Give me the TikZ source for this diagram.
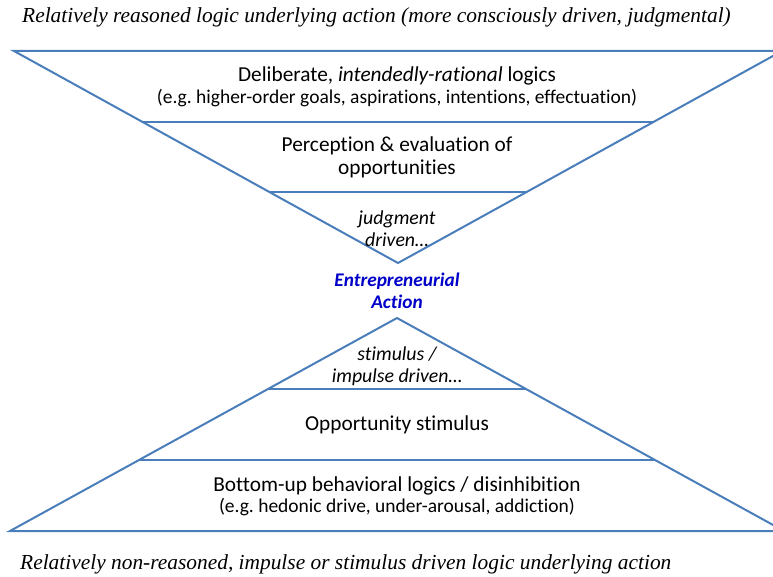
\documentclass[tikz,border=0pt]{standalone}
\usepackage{fontspec}
\setmainfont{Carlito}[Ligatures=NoCommon]
\newfontfamily\capfont{Liberation Serif}
\usetikzlibrary{calc}

\definecolor{edgeblue}{RGB}{74,126,187}
\definecolor{actblue}{RGB}{0,0,200}

\tikzset{
  edge/.style={draw=edgeblue,line width=2pt,line join=miter},
  big/.style={align=center,inner sep=0pt,font=\fontsize{21.3}{23}\selectfont},
  small/.style={align=center,inner sep=0pt,font=\fontsize{19.5}{22}\selectfont},
  slant/.style={align=center,inner sep=0pt,font=\fontsize{19.8}{22}\selectfont\itshape},
  captext/.style={anchor=west,inner sep=0pt,font=\capfont\itshape\fontsize{21.4}{24}\selectfont}
}

\begin{document}
\frenchspacing
\begin{tikzpicture}[x=1pt,y=-1pt]
\useasboundingbox (0,0) rectangle (773,577);

% upper triangle
\coordinate (tl) at (14,51);
\coordinate (tr) at (782,51);
\coordinate (ta) at (398,263);
\draw[edge] (tl) -- (tr) -- (ta) -- cycle;
\draw[edge] ($(tl)!1/3!(ta)$) -- ($(tr)!1/3!(ta)$);
\draw[edge] ($(tl)!2/3!(ta)$) -- ($(tr)!2/3!(ta)$);

% lower triangle
\coordinate (bl) at (10,531);
\coordinate (br) at (784,531);
\coordinate (ba) at (397,318);
\draw[edge] (bl) -- (br) -- (ba) -- cycle;
\draw[edge] ($(ba)!1/3!(bl)$) -- ($(ba)!1/3!(br)$);
\draw[edge] ($(ba)!2/3!(bl)$) -- ($(ba)!2/3!(br)$);

\node[captext] (captop) at (22,17) {Relatively reasoned logic underlying action (more consciously driven, judgmental)};
\node[captext] (capbot) at (20,564) {Relatively non-reasoned, impulse or stimulus driven logic underlying action};

\node[big] (delib) at (397,76) {Deliberate, \textit{intendedly-rational} logics};
\node[small] (delibeg) at (397,98) {(e.g. higher-order goals, aspirations, intentions, effectuation)};
\node[big] (perc) at (397,157) {Perception \& evaluation of\\opportunities};
\node[slant] (judg) at (397,229) {judgment\\driven\ldots};
\node[small,font=\fontsize{19.3}{22}\selectfont\bfseries\itshape,text=actblue] (act) at (397,291) {Entrepreneurial\\Action};
\node[slant] (stim) at (397,366) {stimulus /\\impulse driven\ldots};
\node[big] (opp) at (397,425) {Opportunity stimulus};
\node[big] (bottom) at (397,486) {Bottom-up behavioral logics / disinhibition};
\node[small] (bottomeg) at (397,507) {(e.g. hedonic drive, under-arousal, addiction)};
\end{tikzpicture}
\end{document}
